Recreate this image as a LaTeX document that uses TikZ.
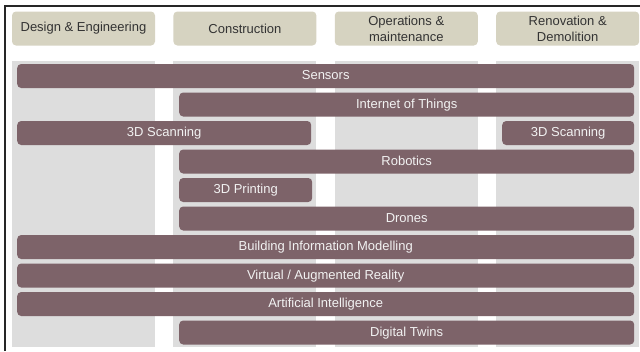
\documentclass[tikz,border=0pt]{standalone}
\usepackage{fontspec}
\setmainfont{Liberation Sans}
\usetikzlibrary{positioning}

\definecolor{phasefill}{HTML}{D6D3C1}
\definecolor{lanefill}{HTML}{DDDDDD}
\definecolor{techfill}{HTML}{7D6369}
\definecolor{phasetext}{HTML}{333333}
\definecolor{techtext}{HTML}{F2F2F2}

\begin{document}
\begin{tikzpicture}[x=1pt,y=-1pt,node distance=18pt,
    phase/.style={fill=phasefill,rounded corners=4pt,minimum width=143pt,minimum height=34pt,
                  inner sep=0pt,align=center,text=phasetext,font=\fontsize{13}{16}\selectfont},
    lane/.style={fill=lanefill,minimum width=143pt,minimum height=286pt,inner sep=0pt},
    tech/.style={fill=techfill,rounded corners=4pt,minimum height=24pt,inner sep=0pt,
                 text height=8pt,text depth=1pt,
                 anchor=west,text=techtext,font=\fontsize{13}{15}\selectfont}]
    \useasboundingbox (0,0) rectangle (640,351);

    % life cycle phases
    \node[phase]                        (design)       at (83.5,28.5) {Design \& Engineering};
    \node[phase, right=of design]       (construction)              {Construction};
    \node[phase, right=of construction] (operations)                {Operations \&\\maintenance};
    \node[phase, right=of operations]   (renovation)                {Renovation \&\\Demolition};

    % lanes under each phase
    \node[lane, below=15.5pt of design]       (designlane)       {};
    \node[lane, below=15.5pt of construction] (constructionlane) {};
    \node[lane, below=15.5pt of operations]   (operationslane)   {};
    \node[lane, below=15.5pt of renovation]   (renovationlane)   {};

    % technologies
    \node[tech, minimum width=617pt] (sensors)   at (17,76)    {Sensors};
    \node[tech, minimum width=455pt] (iot)       at (179,104.5) {Internet of Things};
    \node[tech, minimum width=294pt] (scanleft)  at (17,133)   {3D Scanning};
    \node[tech, minimum width=132pt] (scanright) at (502,133)  {3D Scanning};
    \node[tech, minimum width=455pt] (robotics)  at (179,161.5) {Robotics};
    \node[tech, minimum width=133pt] (printing)  at (179,190)  {3D Printing};
    \node[tech, minimum width=455pt] (drones)    at (179,218.5) {Drones};
    \node[tech, minimum width=617pt] (bim)       at (17,247)   {Building Information Modelling};
    \node[tech, minimum width=617pt] (vr)        at (17,275.5) {Virtual / Augmented Reality};
    \node[tech, minimum width=617pt] (ai)        at (17,304)   {Artificial Intelligence};
    \node[tech, minimum width=455pt] (twins)     at (179,332.5) {Digital Twins};

    % frame
    \draw[line width=1.5pt, black!85] (5,351) -- (5,6) -- (640,6);
\end{tikzpicture}
\end{document}
